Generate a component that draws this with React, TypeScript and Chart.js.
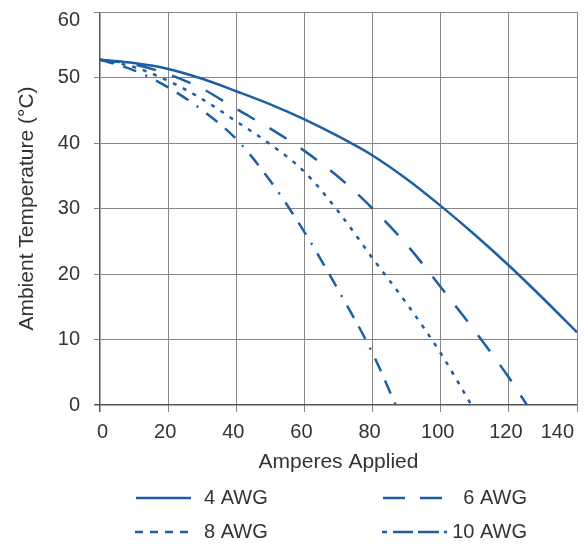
import { useEffect, useRef } from "react";
import { Chart, registerables } from "chart.js";

Chart.register(...registerables);

// ---- data ----
const seriesNames = ["4 AWG", "6 AWG", "8 AWG", "10 AWG"];

const amps4 = [0, 10, 20, 30, 40, 50, 60, 70, 80, 90, 100, 110, 120, 130, 140];
const temp4 = [52.7, 52.2, 51.3, 49.8, 47.9, 45.9, 43.6, 41.0, 38.1, 34.5, 30.4, 26.0, 21.3, 16.3, 11.1];

const amps6 = [0, 10, 20, 30, 40, 50, 60, 70, 80, 90, 100, 110, 120, 125.3];
const temp6 = [52.7, 52.0, 50.5, 48.3, 45.2, 42.2, 38.8, 34.8, 30.0, 24.5, 18.0, 11.3, 4.2, 0];

const amps8 = [0, 10, 20, 30, 40, 50, 60, 70, 80, 90, 100, 109];
const temp8 = [52.7, 51.6, 49.5, 46.7, 43.3, 39.8, 35.6, 29.5, 22.4, 15.5, 7.9, 0];

const amps10 = [0, 10, 20, 30, 40, 50, 60, 70, 80, 86.8];
const temp10 = [52.7, 51.1, 48.5, 45.0, 40.6, 34.2, 26.4, 17.5, 7.9, 0];

const xTicks = [0, 20, 40, 60, 80, 100, 120, 140];
const yTicks = [0, 10, 20, 30, 40, 50, 60];

const xTitle = "Amperes Applied";
const yTitle = "Ambient Temperature (°C)";

// ---- styles ----
const BLUE = "#1d5fa3";
const TEXT = "#333333";
const GRID = "#858585";
const EDGE = "#555555";
const FONT = "'Liberation Sans', Arial, sans-serif";
const dashes: number[][] = [[], [20, 17], [4, 7], [14, 10, 14, 10, 2, 10]];
const legendDashes: number[][] = [[], [22, 15], [8, 7], [5, 6, 20, 5, 21, 5, 4, 60]];

const toPoints = (xs: number[], ys: number[]) => xs.map((x, i) => ({ x, y: ys[i] }));

const legendPlugin = {
  id: "awgLegend",
  afterDraw(chart: any) {
    const ctx = chart.ctx as CanvasRenderingContext2D;
    const area = chart.chartArea;
    ctx.save();
    // keep the space above the plot box clean
    ctx.fillStyle = "#ffffff";
    ctx.fillRect(area.left - 5, 0, 8, area.top - 1);
    const items = [
      { x1: 136, x2: 191, tx: 204, ty: 498, align: "left" },
      { x1: 383, x2: 443, tx: 527, ty: 498, align: "right" },
      { x1: 135, x2: 192, tx: 204, ty: 532, align: "left" },
      { x1: 382, x2: 447, tx: 527, ty: 532, align: "right" },
    ];
    items.forEach((it, i) => {
      ctx.beginPath();
      ctx.setLineDash(legendDashes[i]);
      ctx.strokeStyle = BLUE;
      ctx.lineWidth = 2.5;
      ctx.moveTo(it.x1, it.ty);
      ctx.lineTo(it.x2, it.ty);
      ctx.stroke();
      ctx.setLineDash([]);
      ctx.fillStyle = TEXT;
      ctx.font = `20px ${FONT}`;
      ctx.textBaseline = "middle";
      ctx.textAlign = it.align as CanvasTextAlign;
      ctx.fillText(seriesNames[i], it.tx, it.ty);
    });
    ctx.restore();
  },
};

const edgeColor = (c: any) => (c.tick && c.tick.value === 0 ? EDGE : GRID);
const edgeWidth = (c: any) => (c.tick && c.tick.value === 0 ? 1.5 : 1);

export default function App() {
  const ref = useRef<HTMLCanvasElement>(null);

  useEffect(() => {
    if (!ref.current) return;
    const series = [
      toPoints(amps4, temp4),
      toPoints(amps6, temp6),
      toPoints(amps8, temp8),
      toPoints(amps10, temp10),
    ];
    const chart = new Chart(ref.current, {
      type: "line",
      data: {
        datasets: series.map((pts, i) => ({
          label: seriesNames[i],
          data: pts,
          borderColor: BLUE,
          backgroundColor: BLUE,
          borderWidth: 2.5,
          borderDash: dashes[i],
          pointRadius: 0,
          cubicInterpolationMode: "monotone" as const,
          fill: false,
        })),
      },
      options: {
        animation: false,
        responsive: false,
        devicePixelRatio: 1,
        layout: { padding: { top: 12, right: 11, bottom: 63, left: 8 } },
        plugins: {
          legend: { display: false },
          tooltip: { enabled: false },
        },
        scales: {
          x: {
            type: "linear",
            min: 0,
            max: 140,
            afterBuildTicks: (scale: any) => {
              scale.ticks = xTicks.map((v) => ({ value: v }));
            },
            afterFit: (scale: any) => {
              scale.height = 80;
              scale.paddingLeft = 0;
              scale.paddingRight = 0;
            },
            ticks: {
              color: TEXT,
              font: { family: FONT, size: 20 },
              padding: 8,
              align: "inner",
              labelOffset: -3,
              maxRotation: 0,
            },
            grid: { color: edgeColor, lineWidth: edgeWidth, tickLength: 7 },
            border: { display: false },
            title: {
              display: true,
              text: xTitle,
              color: TEXT,
              font: { family: FONT, size: 21 },
              padding: { top: 0, bottom: 10 },
            },
          },
          y: {
            min: 0,
            max: 60,
            afterBuildTicks: (scale: any) => {
              scale.ticks = yTicks.map((v) => ({ value: v }));
            },
            afterFit: (scale: any) => {
              scale.width = 92;
              scale.paddingTop = 0;
              scale.paddingBottom = 0;
            },
            ticks: {
              color: TEXT,
              font: { family: FONT, size: 20, lineHeight: 0.85 },
              padding: 14,
              callback: (v: any) => (v === 60 ? ["", "60"] : String(v)),
            },
            grid: { color: edgeColor, lineWidth: edgeWidth, tickLength: 6 },
            border: { display: false },
            title: {
              display: true,
              text: yTitle,
              color: TEXT,
              font: { family: FONT, size: 21 },
              padding: { top: 7, bottom: 0 },
            },
          },
        },
      },
      plugins: [legendPlugin],
    });
    return () => chart.destroy();
  }, []);

  return (
    <canvas
      ref={ref}
      width={588}
      height={548}
      style={{ display: "block", margin: "-8px 0 0 -8px" }}
    />
  );
}
